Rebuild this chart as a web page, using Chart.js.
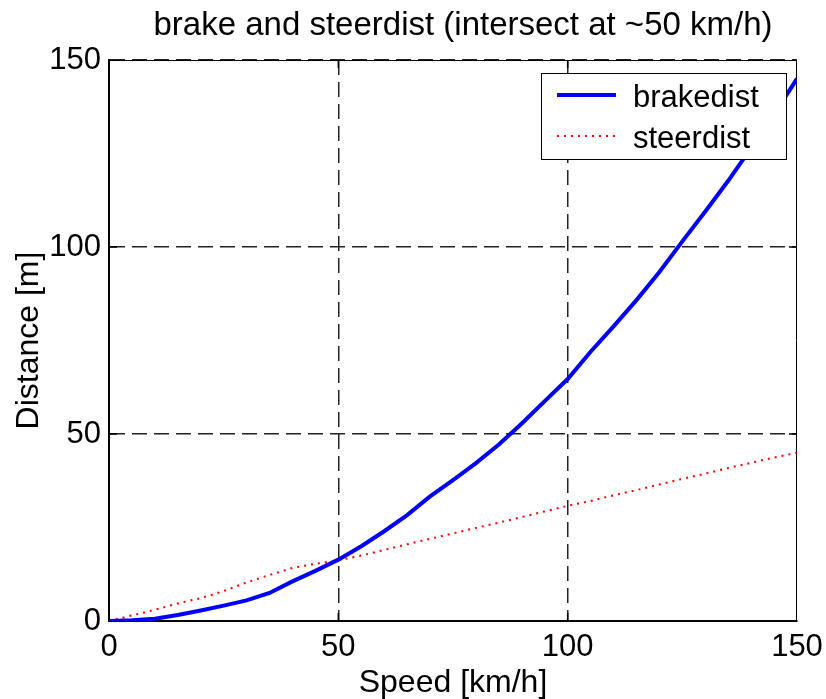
<!DOCTYPE html>
<html>
<head>
<meta charset="utf-8">
<title>brake and steerdist</title>
<script src="https://cdn.jsdelivr.net/npm/chart.js@4/dist/chart.umd.min.js"></script>
<style>
  html, body { margin: 0; padding: 0; background: #fff; overflow: hidden; }
  #chart { display: block; }
</style>
</head>
<body>
<canvas id="chart" width="826" height="705"></canvas>
<script>
// values (km/h -> m)
var speedKmh = [0, 5, 10, 15, 20, 25, 30, 35, 40, 45, 50, 55, 60, 65, 70, 75, 80, 85, 90, 95, 100, 105, 110, 115, 120, 125, 130, 135, 140, 145, 150];
var brakeDist = [0, 0.2, 0.6, 1.6, 2.8, 4.1, 5.5, 7.5, 10.6, 13.4, 16.4, 20.0, 24.0, 28.3, 33.3, 37.7, 42.2, 47.2, 52.8, 58.8, 64.7, 72.0, 78.8, 85.8, 93.3, 101.5, 109.5, 117.7, 126.5, 135.5, 145.0];
var steerDist = [0, 1.5, 3.0, 4.7, 6.1, 8.0, 10.3, 12.3, 14.2, 15.3, 16.2, 17.5, 19.0, 20.5, 22.0, 23.4, 24.9, 26.3, 27.8, 29.3, 30.8, 32.1, 33.6, 35.0, 36.5, 38.0, 39.4, 40.9, 42.3, 43.7, 45.0];
var seriesNames = ['brakedist', 'steerdist'];
var tickValues = [0, 50, 100, 150];

var titleText = 'brake and steerdist (intersect at ~50 km/h)';
var FONT = '"Liberation Sans", Arial, sans-serif';

function toPoints(xs, ys) {
  var pts = [];
  for (var i = 0; i < xs.length; i++) {
    pts.push({ x: xs[i], y: ys[i] });
  }
  return pts;
}

// title, box, inward ticks
var framePlugin = {
  id: 'frame',
  beforeDatasetsDraw: function (chart) {
    var ctx = chart.ctx;
    var a = chart.chartArea;
    var xs = chart.scales.x, ys = chart.scales.y;
    ctx.save();
    ctx.strokeStyle = '#000';
    ctx.lineWidth = 1;
    ctx.beginPath();
    ctx.moveTo(a.left, a.top + 0.5);
    ctx.lineTo(a.right, a.top + 0.5);
    ctx.moveTo(a.right - 0.5, a.top);
    ctx.lineTo(a.right - 0.5, a.bottom);
    ctx.stroke();
    ctx.lineWidth = 1.5;
    ctx.beginPath();
    [50, 100].forEach(function (v) {
      var px = xs.getPixelForValue(v);
      ctx.moveTo(px, a.bottom); ctx.lineTo(px, a.bottom - 8);
      ctx.moveTo(px, a.top); ctx.lineTo(px, a.top + 8);
      var py = ys.getPixelForValue(v);
      ctx.moveTo(a.left, py); ctx.lineTo(a.left + 8, py);
      ctx.moveTo(a.right, py); ctx.lineTo(a.right - 8, py);
    });
    ctx.stroke();
    ctx.restore();
  },
  afterDraw: function (chart) {
    var ctx = chart.ctx;
    var a = chart.chartArea;
    ctx.save();
    ctx.fillStyle = '#000';
    ctx.font = '33px ' + FONT;
    ctx.textAlign = 'center';
    ctx.textBaseline = 'alphabetic';
    ctx.fillText(titleText, (a.left + a.right) / 2 + 10, 35);
    ctx.restore();
  }
};

// legend box in the top right corner of the axes
var boxLegend = {
  id: 'boxLegend',
  afterDatasetsDraw: function (chart) {
    var ctx = chart.ctx;
    var a = chart.chartArea;
    var right = a.right - 10, top = a.top + 13;
    var w = 246, h = 87;
    var left = right - w;
    ctx.save();
    ctx.fillStyle = '#fff';
    ctx.fillRect(left, top, w, h);
    ctx.strokeStyle = '#000';
    ctx.lineWidth = 1;
    ctx.strokeRect(left + 0.5, top + 0.5, w - 1, h - 1);
    ctx.font = '31px ' + FONT;
    ctx.textAlign = 'left';
    ctx.textBaseline = 'alphabetic';
    var rows = [22, 63];
    chart.data.datasets.forEach(function (ds, i) {
      var y = top + rows[i];
      ctx.beginPath();
      ctx.strokeStyle = ds.borderColor;
      ctx.lineWidth = ds.borderWidth;
      ctx.setLineDash(ds.borderDash || []);
      ctx.moveTo(left + 16, y);
      ctx.lineTo(left + 75, y);
      ctx.stroke();
      ctx.setLineDash([]);
      ctx.fillStyle = '#000';
      ctx.fillText(ds.label, left + 92, y + 12);
    });
    ctx.restore();
  }
};

var chartContext = document.getElementById('chart');
var chart = new Chart(chartContext, {
  type: 'line',
  data: {
    datasets: [
      {
        label: seriesNames[0],
        data: toPoints(speedKmh, brakeDist),
        borderColor: '#0000ff',
        borderWidth: 4,
        pointRadius: 0,
        fill: false,
        tension: 0
      },
      {
        label: seriesNames[1],
        data: toPoints(speedKmh, steerDist),
        borderColor: '#ff0000',
        borderWidth: 2,
        borderDash: [2, 5],
        pointRadius: 0,
        fill: false,
        tension: 0
      }
    ]
  },
  options: {
    responsive: false,
    animation: false,
    devicePixelRatio: 1,
    layout: { padding: { left: 0, right: 29, top: 60, bottom: 0 } },
    plugins: {
      legend: { display: false },
      title: { display: false },
      tooltip: { enabled: false }
    },
    scales: {
      x: {
        type: 'linear',
        min: 0,
        max: 150,
        afterBuildTicks: function (scale) {
          scale.ticks = tickValues.map(function (v) { return { value: v }; });
        },
        afterFit: function (scale) {
          scale.height = 84;
          scale.paddingLeft = 0;
          scale.paddingRight = 0;
        },
        ticks: {
          color: '#000',
          padding: 8,
          maxRotation: 0,
          font: { family: FONT, size: 31 }
        },
        grid: {
          drawTicks: false,
          lineWidth: 1.5,
          color: function (c) {
            var v = c.tick ? c.tick.value : null;
            return (v === 0 || v === 150) ? 'rgba(0,0,0,0)' : '#222';
          }
        },
        border: { display: true, color: '#000', width: 2, dash: [15, 7] },
        title: {
          display: true,
          text: 'Speed [km/h]',
          color: '#000',
          padding: { top: 0, bottom: 3 },
          font: { family: FONT, size: 32 }
        }
      },
      y: {
        type: 'linear',
        min: 0,
        max: 150,
        afterBuildTicks: function (scale) {
          scale.ticks = tickValues.map(function (v) { return { value: v }; });
        },
        afterFit: function (scale) {
          scale.width = 109;
          scale.paddingTop = 0;
          scale.paddingBottom = 0;
        },
        ticks: {
          color: '#000',
          padding: 8,
          font: { family: FONT, size: 31 }
        },
        grid: {
          drawTicks: false,
          lineWidth: 1.5,
          color: function (c) {
            var v = c.tick ? c.tick.value : null;
            return v === 0 ? 'rgba(0,0,0,0)' : '#222';
          }
        },
        border: { display: true, color: '#000', width: 2, dash: [15, 7] },
        title: {
          display: true,
          text: 'Distance [m]',
          color: '#000',
          padding: { top: 10, bottom: 0 },
          font: { family: FONT, size: 32 }
        }
      }
    }
  },
  plugins: [framePlugin, boxLegend]
});
</script>
</body>
</html>
